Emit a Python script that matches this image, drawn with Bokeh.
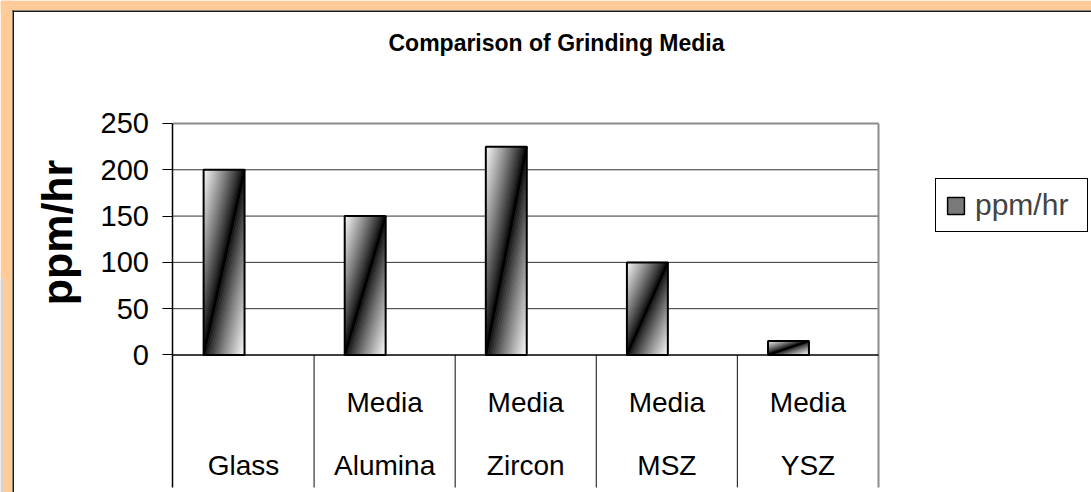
import numpy as np
from bokeh.plotting import figure
from bokeh.models import (Range1d, FixedTicker, LinearAxis, Label, Legend, LegendItem,
                          ColumnDataSource, BoxAnnotation)
from bokeh.embed import file_html
from bokeh.resources import INLINE
from bokeh.core.properties import value

# ---------------- data ----------------
title_text = "Comparison of Grinding Media"
categories = ["Glass", "Alumina Media", "Zircon Media", "MSZ Media", "YSZ Media"]
label_top = ["", "Media", "Media", "Media", "Media"]
label_bottom = ["Glass", "Alumina", "Zircon", "MSZ", "YSZ"]
values = [200, 150, 225, 100, 15]
y_ticks = [0, 50, 100, 150, 200, 250]
y_label = "ppm/hr"
series_name = "ppm/hr"

# ---------------- style ----------------
W, H = 1091, 492
FONT = "Liberation Sans"
X_START, X_END = -1.2225, 6.5095      # view window in category units
Y_START, Y_END = -148.5, 382.8        # view window in value units
BAR_OFFSET = -0.138
BAR_WIDTH = 0.29
Y_BOTTOM = -143
ROW1_Y = -51
ROW2_Y = -119
N_STRIPS = 48

n = len(categories)
y_top = max(y_ticks)
p = figure(width=W, height=H, output_backend="svg", toolbar_location=None,
           x_range=Range1d(X_START, X_END), y_range=Range1d(Y_START, Y_END),
           x_axis_location=None, y_axis_location=None,
           min_border=0, min_border_left=0, min_border_right=0,
           min_border_top=0, min_border_bottom=0)
p.outline_line_color = None
p.background_fill_color = "white"
p.border_fill_color = "white"
p.grid.visible = False

# value axis (library axis, pinned at the category origin)
ya = LinearAxis(ticker=FixedTicker(ticks=y_ticks), fixed_location=0,
                bounds=(Y_BOTTOM, y_top))
ya.major_tick_out = 10
ya.major_tick_in = 0
ya.minor_tick_line_color = None
ya.axis_line_color = "black"
ya.axis_line_width = 1.5
ya.major_tick_line_color = "black"
ya.major_tick_line_width = 1.2
ya.major_label_text_font = FONT
ya.major_label_text_font_size = "29px"
ya.major_label_text_color = "black"
ya.major_label_standoff = 14
p.add_layout(ya, "left")

# horizontal grid lines at the ticks (below the top one)
grid_y = y_ticks[1:-1]
p.segment(x0=[0] * len(grid_y), x1=[n] * len(grid_y), y0=grid_y, y1=grid_y,
          line_color="#333333", line_width=1)
# plot-area top and right border
p.segment(x0=[0, n], x1=[n, n], y0=[y_top, Y_BOTTOM], y1=[y_top, y_top],
          line_color="#8c8c8c", line_width=2)
# lower category separators
p.segment(x0=list(range(1, n)), x1=list(range(1, n)), y0=[Y_BOTTOM] * (n - 1),
          y1=[0] * (n - 1), line_color="#333333", line_width=1.2)


# gradient bars
def clip(poly, f):
    out = []
    m = len(poly)
    for k in range(m):
        P = poly[k]
        Q = poly[(k + 1) % m]
        fp, fq = f(P), f(Q)
        if fp >= 0:
            out.append(P)
        if (fp >= 0) != (fq >= 0):
            t = fp / (fp - fq)
            out.append((P[0] + t * (Q[0] - P[0]), P[1] + t * (Q[1] - P[1])))
    return out


centers = [i + 0.5 + BAR_OFFSET for i in range(n)]
xs, ys, cols = [], [], []
edges = np.linspace(-1, 1, N_STRIPS + 1)
square = [(0, 0), (1, 0), (1, 1), (0, 1)]
for c, v in zip(centers, values):
    xl = c - BAR_WIDTH / 2
    for a, b in zip(edges[:-1], edges[1:]):
        poly = clip(square, lambda q, a=a: (q[0] - q[1]) - a)
        poly = clip(poly, lambda q, b=b: b - (q[0] - q[1]))
        if len(poly) < 3:
            continue
        xs.append([xl + u * BAR_WIDTH for u, _ in poly])
        ys.append([w * v for _, w in poly])
        g = int(round(250 * abs((a + b) / 2) ** 0.85))
        cols.append("#%02x%02x%02x" % (g, g, g))

p.patches(xs=xs, ys=ys, fill_color=cols, line_color=cols, line_width=0.8)
p.segment(x0=[c - BAR_WIDTH / 2 for c in centers], y0=[0] * n,
          x1=[c + BAR_WIDTH / 2 for c in centers], y1=values,
          line_color="black", line_width=2)
p.vbar(x=centers, top=values, width=BAR_WIDTH, bottom=0, fill_color=None,
       line_color="black", line_width=2)

# legend key renderer (zero-height bar on the baseline, only used for the legend swatch)
key = p.vbar(x=centers[:1], top=[0], bottom=[0], width=BAR_WIDTH, fill_color="#7a7a7a",
             line_color="black", line_width=1.5)

# zero line (category axis line)
p.segment(x0=[0], x1=[n], y0=[0], y1=[0], line_color="black", line_width=1.6)

# category labels
lab_src = ColumnDataSource(dict(x=[i + 0.5 for i in range(n)], t1=label_top, t2=label_bottom,
                                y1=[ROW1_Y] * n, y2=[ROW2_Y] * n))
for col_t, col_y in (("t1", "y1"), ("t2", "y2")):
    p.text(x="x", y=col_y, text=col_t, source=lab_src, text_font=value(FONT),
           text_font_size="28px", text_align="center", text_baseline="middle",
           text_color="black")

# y label and title
p.add_layout(Label(x=56, y=H - 232, x_units="screen", y_units="screen", text=y_label,
                   angle=np.pi / 2, text_align="center", text_baseline="middle",
                   text_font=FONT, text_font_style="bold", text_font_size="43px",
                   text_color="black"))
p.add_layout(Label(x=556, y=H - 42, x_units="screen", y_units="screen", text=title_text,
                   text_align="center", text_baseline="middle", text_font=FONT,
                   text_font_style="bold", text_font_size="23px", text_color="black"))

# legend
legend = Legend(items=[LegendItem(label=series_name, renderers=[key])],
                location=(935, H - 232), margin=0, padding=9, spacing=0,
                border_line_color="black", border_line_width=1, border_line_alpha=1,
                background_fill_color="white", background_fill_alpha=1,
                label_text_font=FONT, label_text_font_size="30px",
                glyph_width=21, glyph_height=21, label_standoff=9,
                label_width=103, label_height=25)
p.add_layout(legend, "center")

# orange page frame
for l, r, b, t, col in ((0, 12, 0, H, "#ffcc99"), (0, W, H - 10, H, "#ffcc99"),
                        (0, 3, 0, H - 278, "#d4d4dc"),
                        (12, 13.5, 0, H - 10, "#1a1a1a"), (12, W, H - 11.5, H - 10, "#1a1a1a")):
    p.add_layout(BoxAnnotation(left=l, right=r, bottom=b, top=t,
                               left_units="screen", right_units="screen",
                               bottom_units="screen", top_units="screen",
                               fill_color=col, fill_alpha=1, line_color=None,
                               level="underlay"))

open("out.html", "w").write(file_html(p, INLINE))
